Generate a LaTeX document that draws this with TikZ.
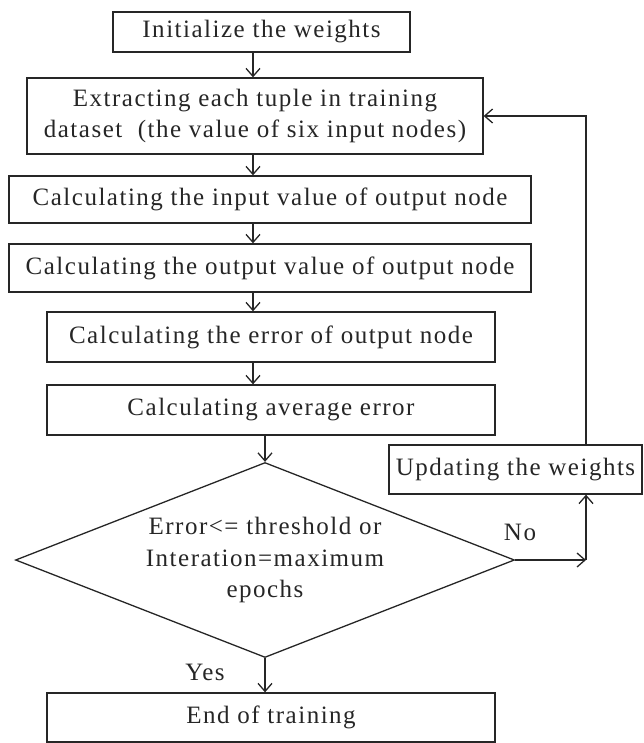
\documentclass[tikz,border=0pt]{standalone}
\usepackage{fontspec}
\setmainfont[LetterSpace=6]{Liberation Serif}
\usetikzlibrary{arrows.meta,shapes.geometric}

\begin{document}
\begin{tikzpicture}[x=1pt, y=-1pt,
    stepbox/.style={draw, shape=rectangle, inner sep=0pt, align=center},
    test/.style={draw, shape=diamond, aspect=2.5, inner sep=0pt, align=center},
    >={Straight Barb[length=8pt,width=14pt]},
    line width=1.3pt, draw=black!85, text=black!85,
    font=\fontsize{25}{31.5}\selectfont]
    \useasboundingbox (0,0) rectangle (644,743);
    \coordinate (mid) at (253,0);
    \coordinate (loop) at (586,0);
    \coordinate (corner) at (586,560);

    \node[stepbox, minimum width=297pt, minimum height=40pt] at (261.5,32) (init) {Initialize the weights};
    \node[stepbox, minimum width=456pt, minimum height=76pt] at (255,116) (extract) {Extracting each tuple in training\\dataset~ (the value of six input nodes)};
    \node[stepbox, minimum width=522pt, minimum height=47pt] at (270,199.5) (inval) {Calculating the input value of output node};
    \node[stepbox, minimum width=522pt, minimum height=48pt] at (270,268) (outval) {Calculating the output value of output node};
    \node[stepbox, minimum width=448pt, minimum height=50pt] at (271,337) (err) {Calculating the error of output node};
    \node[stepbox, minimum width=448pt, minimum height=50pt] at (271,410) (avgerr) {Calculating average error};
    \node[test, minimum width=499pt, minimum height=195pt] at (265,560) (dec) {Error<= threshold or\\Interation=maximum\\epochs};
    \node[stepbox, minimum width=253pt, minimum height=49pt] at (515.5,469.5) (update) {Updating the weights};
    \node[stepbox, minimum width=448pt, minimum height=49pt] at (271,717.5) (stop) {End of training};
    \node at (520,532) (no) {No};
    \node at (205,672) (yes) {Yes};

    \draw[->] (init.south -| mid) -- (extract.north -| mid);
    \draw[->] (extract.south -| mid) -- (inval.north -| mid);
    \draw[->] (inval.south -| mid) -- (outval.north -| mid);
    \draw[->] (outval.south -| mid) -- (err.north -| mid);
    \draw[->] (err.south -| mid) -- (avgerr.north -| mid);
    \draw[->] (dec.north |- avgerr.south) -- (dec.north);
    \draw[->] (dec.south) -- (dec.south |- stop.north);
    \draw[->] (dec.east) -- (corner);
    \draw[->] (corner) -- (update.south -| corner);
    \draw[->] (update.north -| loop) |- (extract.east);
\end{tikzpicture}
\end{document}
